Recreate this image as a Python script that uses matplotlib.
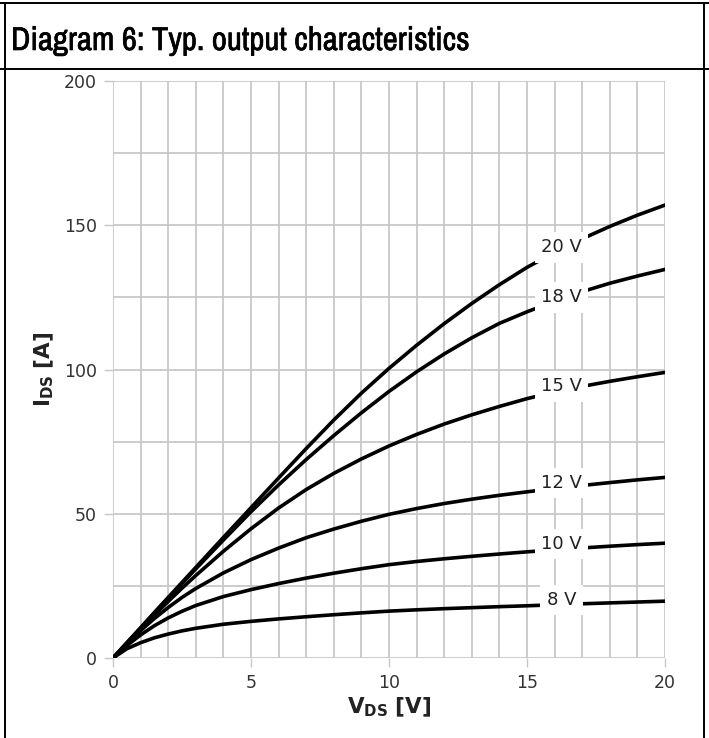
import matplotlib
matplotlib.use('Agg')
import matplotlib.pyplot as plt
import matplotlib.patheffects as pe
from matplotlib import font_manager
from matplotlib.lines import Line2D
from matplotlib.ticker import MultipleLocator

plt.rcParams['font.family'] = 'DejaVu Sans'
plt.rcParams['mathtext.fontset'] = 'dejavusans'

# data
vds = [0, 0.5, 1, 1.5, 2, 2.5, 3, 4, 5, 6, 7, 8, 9, 10, 11, 12, 13, 14, 15, 16, 17, 18, 19, 20]
id_8v = [0, 3.2, 5.3, 7.0, 8.3, 9.4, 10.3, 11.7, 12.7, 13.55, 14.3, 15.0, 15.65, 16.25,
         16.7, 17.1, 17.45, 17.8, 18.1, 18.45, 18.8, 19.1, 19.4, 19.7]
id_10v = [0, 4.3, 8.0, 11.2, 13.9, 16.2, 18.2, 21.3, 23.7, 25.8, 27.7, 29.4, 30.95, 32.35,
          33.45, 34.4, 35.25, 36.05, 36.8, 37.5, 38.15, 38.75, 39.3, 39.8]
id_12v = [0, 4.9, 9.5, 13.7, 17.5, 21.0, 24.1, 29.5, 34.1, 38.1, 41.7, 44.7, 47.4, 49.8,
          51.8, 53.55, 55.05, 56.4, 57.6, 58.75, 59.8, 60.8, 61.75, 62.6]
id_15v = [0, 5.0, 10.0, 14.9, 19.6, 24.2, 28.6, 37.0, 44.8, 52.0, 58.4, 64.0, 69.0, 73.5,
          77.5, 81.1, 84.3, 87.2, 89.9, 92.2, 94.15, 95.9, 97.5, 99.0]
id_18v = [0, 5.2, 10.4, 15.6, 20.7, 25.8, 30.9, 40.9, 50.7, 60.0, 68.8, 77.1, 85.0, 92.4,
          99.2, 105.4, 111.0, 116.0, 120.0, 123.7, 127.0, 129.9, 132.4, 134.7]
id_20v = [0, 5.3, 10.5, 15.8, 21.0, 26.2, 31.4, 41.8, 52.1, 62.4, 72.6, 82.5, 91.8, 100.4,
          108.4, 115.9, 122.9, 129.4, 135.4, 140.6, 145.3, 149.6, 153.5, 157.0]

curves = [id_8v, id_10v, id_12v, id_15v, id_18v, id_20v]
labels = ['8 V', '10 V', '12 V', '15 V', '18 V', '20 V']
label_x = 16.25
label_y = [20.1, 39.5, 60.6, 94.2, 125.0, 142.4]

fig = plt.figure(figsize=(7.09, 7.38), dpi=100)
ax = fig.add_axes([0.1594, 0.1084, 0.7785, 0.7818])

for ids in curves:
    ax.plot(vds, ids, color='black', lw=2.6, solid_joinstyle='round', zorder=3)

for lab, ly in zip(labels, label_y):
    ax.text(label_x, ly, lab, ha='center', va='center', fontsize=13, color='#222222',
            zorder=4, bbox=dict(boxstyle='square,pad=0.35', fc='white', ec='none'))

ax.set_xlim(0, 20)
ax.set_ylim(0, 200)
ax.xaxis.set_major_locator(MultipleLocator(5))
ax.xaxis.set_minor_locator(MultipleLocator(1))
ax.yaxis.set_major_locator(MultipleLocator(50))
ax.yaxis.set_minor_locator(MultipleLocator(25))
ax.grid(True, which='both', color='#c8c8c8', lw=1.3, zorder=0)
ax.set_axisbelow(True)
for s in ax.spines.values():
    s.set_visible(False)
ax.tick_params(which='major', length=6.5, width=1, color='#c8c8c8', labelsize=12.5,
               labelcolor='#333333', pad=5)
ax.tick_params(which='minor', length=0)

ax.set_xlabel(r'$\mathbf{V_{DS}}$ $\mathbf{[V]}$', fontsize=15.5, labelpad=3, color='#222222')
ax.set_ylabel(r'$\mathbf{I_{DS}}$ $\mathbf{[A]}$', fontsize=15.5, labelpad=6, color='#222222')

# frame and title band
W, H = 709, 738
def fx(px):
    return px / W
def fy(py):
    return 1 - py / H
for xs, ys in [((fx(5), fx(5)), (fy(3), 0)),
               ((fx(704), fx(704)), (fy(3), 0)),
               ((0, 1), (fy(3), fy(3))),
               ((0, 1), (fy(69), fy(69)))]:
    fig.add_artist(Line2D(xs, ys, color='black', lw=1.4))

# narrow font for the title if one is installed, 'Narrow' families first
narrow = [f for f in font_manager.fontManager.ttflist
          if (f.stretch in ('condensed', 'semi-condensed') or 'Narrow' in f.name
              or 'Condensed' in f.name) and 'Mono' not in f.name and 'Serif' not in f.name]
narrow.sort(key=lambda f: 'Narrow' not in f.name)
if narrow:
    title_kw = dict(family=narrow[0].name, stretch=narrow[0].stretch, weight='semibold')
else:
    title_kw = dict(family='Lato', weight='semibold')
title = fig.text(fx(11), fy(50), 'Diagram 6: Typ. output characteristics', ha='left',
                 va='baseline', fontsize=22, color='black', **title_kw)
fig.canvas.draw()
tw = title.get_window_extent().width
title.set_fontsize(22 * 459 / tw)
# thicken the strokes a little, the original title is semibold
title.set_path_effects([pe.withStroke(linewidth=0.45, foreground='black')])

fig.savefig('out.png', dpi=100)
